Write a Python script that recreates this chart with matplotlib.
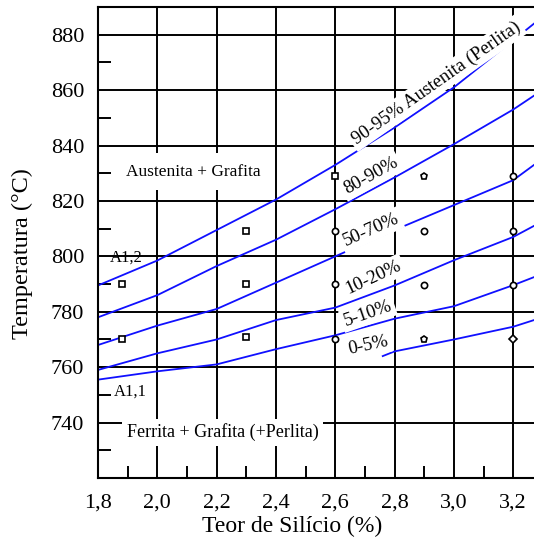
import matplotlib
matplotlib.use("Agg")
import matplotlib.pyplot as plt
from matplotlib.ticker import MultipleLocator, FuncFormatter

plt.rcParams['font.family'] = ['Liberation Serif', 'DejaVu Serif']

# silicon content where each curve was read
si_full = [1.8, 2.0, 2.2, 2.4, 2.6, 2.8, 3.0, 3.2, 3.27]
si_short = [2.76, 2.8, 3.0, 3.2, 3.27]

# transformation curves (temperature, C)
t_90_95 = [789.5, 798.5, 809.5, 820.5, 833, 846.5, 861, 878, 884]
t_80_90 = [778, 786, 796.5, 806, 817, 828.5, 840.5, 853, 858]
t_50_70 = [768, 775, 781, 790.5, 800, 809.5, 818.5, 827.5, 833]
t_10_20 = [759, 765, 770, 777, 781.5, 789.5, 798.6, 807, 811]
t_5_10 = [755.5, 758.5, 761, 766.5, 771.5, 777.5, 782, 789.6, 792.5]
t_0_5 = [764, 765.7, 770, 774.6, 777]

# measured points
pt_si = [1.88, 1.88, 2.3, 2.3, 2.3, 2.6, 2.6, 2.6, 2.6,
         2.9, 2.9, 2.9, 2.9, 3.2, 3.2, 3.2, 3.2]
pt_t = [790, 770, 809, 790, 771, 829, 809, 790, 770,
        829, 809, 789.6, 770, 829, 809, 789.6, 770]
pt_mk = ['s', 's', 's', 's', 's', 's', 'o', 'o', 'o',
         'p', 'o', 'o', 'p', 'o', 'o', 'o', 'D']

fig = plt.figure(figsize=(5.34, 5.54), dpi=100)
ax = fig.add_axes([98/534, 76/554, 436/534, 471/554])

ax.set_xlim(1.8, 3.27)
ax.set_ylim(720, 890)

ax.xaxis.set_major_locator(MultipleLocator(0.2))
ax.xaxis.set_minor_locator(MultipleLocator(0.1))
ax.yaxis.set_major_locator(MultipleLocator(20))
ax.yaxis.set_minor_locator(MultipleLocator(10))
ax.xaxis.set_major_formatter(FuncFormatter(lambda v, p: f"{v:.1f}".replace(".", ",")))
ax.yaxis.set_major_formatter(FuncFormatter(lambda v, p: "" if v < 730 else f"{v:.0f}"))

ax.grid(True, which='major', color='black', linewidth=1.4)
ax.set_axisbelow(True)
ax.tick_params(which='major', length=0, labelsize=16)
ax.tick_params(axis='y', which='major', pad=10)
ax.tick_params(axis='x', which='major', pad=11)
ax.tick_params(which='minor', direction='in', length=9, width=1.4, color='black')
for side in ['left', 'bottom', 'top']:
    ax.spines[side].set_linewidth(1.5)
ax.spines['right'].set_visible(False)

blue = '#1010ff'
for temps in [t_90_95, t_80_90, t_50_70, t_10_20, t_5_10]:
    ax.plot(si_full, temps, color=blue, linewidth=1.3, zorder=2)
ax.plot(si_short, t_0_5, color=blue, linewidth=1.3, zorder=2)

for x, y, m in zip(pt_si, pt_t, pt_mk):
    ax.plot(x, y, marker=m, markersize=4.5, markerfacecolor='white',
            markeredgecolor='black', markeredgewidth=1.2, zorder=4)

box = dict(facecolor='white', edgecolor='none', boxstyle='square,pad=0.15')
ax.text(2.12, 830.5, "Austenita + Grafita", fontsize=12.5, ha='center', va='center',
        bbox=dict(facecolor='white', edgecolor='none', boxstyle='square,pad=0.6'), zorder=3)
ax.text(2.22, 736.5, "Ferrita + Grafita (+Perlita)", fontsize=13, ha='center', va='center',
        bbox=dict(facecolor='white', edgecolor='none', boxstyle='square,pad=0.25'), zorder=3)
ax.text(1.895, 799.5, "A1,2", fontsize=12, ha='center', va='center', zorder=3)
ax.text(1.91, 751, "A1,1", fontsize=12, ha='center', va='center', zorder=3)

ax.text(2.94, 862.5, "90-95% Austenita (Perlita)", fontsize=13.5, rotation=35,
        ha='center', va='center', rotation_mode='anchor', bbox=box, zorder=3)
ax.text(2.72, 829, "80-90%", fontsize=13.5, rotation=29,
        ha='center', va='center', rotation_mode='anchor', bbox=box, zorder=3)
ax.text(2.72, 809.5, "50-70%", fontsize=13.5, rotation=24,
        ha='center', va='center', rotation_mode='anchor', bbox=box, zorder=3)
ax.text(2.73, 792.5, "10-20%", fontsize=13.5, rotation=25,
        ha='center', va='center', rotation_mode='anchor', bbox=box, zorder=3)
ax.text(2.71, 779.5, "5-10%", fontsize=13.5, rotation=19,
        ha='center', va='center', rotation_mode='anchor', bbox=box, zorder=3)
ax.text(2.71, 768, "0-5%", fontsize=13.5, rotation=12,
        ha='center', va='center', rotation_mode='anchor', bbox=box, zorder=3)

ax.set_xlabel("Teor de Silício (%)", fontsize=17)
ax.set_ylabel("Temperatura (°C)", fontsize=17.5)
ax.xaxis.set_label_coords(0.445, -0.08)
ax.yaxis.set_label_coords(-0.15, 0.476)

fig.savefig("out.png", dpi=100)
